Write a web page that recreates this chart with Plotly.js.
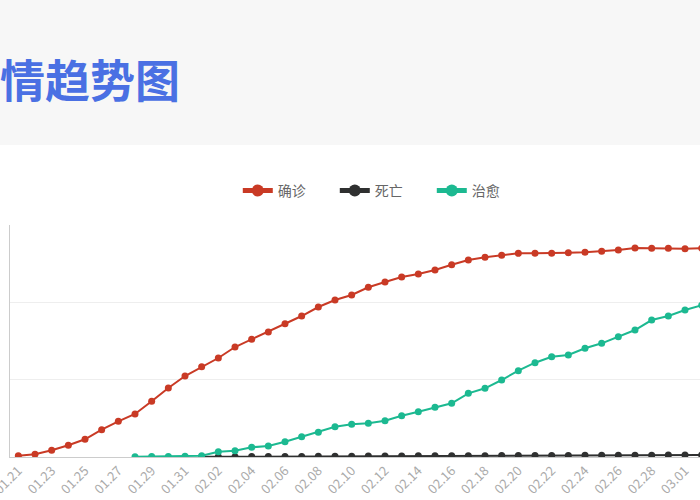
<!DOCTYPE html>
<html>
<head>
<meta charset="utf-8">
<script src="https://cdn.plot.ly/plotly-3.0.1.min.js"></script>
<style>
  body { margin: 0; background: #fff; }
  #chart { width: 700px; height: 500px; }
</style>
</head>
<body>
<div id="chart"></div>
<script>
// dates, one per day
var dates = ['01.21','01.22','01.23','01.24','01.25','01.26','01.27','01.28','01.29','01.30',
             '01.31','02.01','02.02','02.03','02.04','02.05','02.06','02.07','02.08','02.09',
             '02.10','02.11','02.12','02.13','02.14','02.15','02.16','02.17','02.18','02.19',
             '02.20','02.21','02.22','02.23','02.24','02.25','02.26','02.27','02.28','02.29',
             '03.01','03.02'];

// 确诊
var confirmed = [500, 1050, 2600, 4540, 6870, 10590, 13850, 16680, 21610, 26770,
                 31420, 35030, 38400, 42670, 45660, 48490, 51710, 54690, 58190, 60900,
                 62840, 65830, 67880, 69820, 70990, 72540, 74590, 76420, 77460, 78240,
                 79010, 79020, 79030, 79250, 79400, 79790, 80300, 81070, 80960, 80960,
                 80800, 80960];

// 死亡 (starts 02.01)
var deathDates = dates.slice(11);
var deaths = [60, 90, 120, 150, 180, 210, 240, 270, 300, 330,
              360, 390, 420, 440, 460, 480, 500, 520, 540, 560,
              580, 600, 620, 640, 660, 680, 700, 720, 740, 760, 780];

// 治愈 (starts 01.28)
var curedDates = dates.slice(7);
var cured = [120, 150, 200, 330, 480, 2060, 2440, 3760, 4270, 5940,
             7870, 9580, 11750, 12720, 13070, 14080, 16020, 17570, 19280, 20830,
             24710, 26650, 29870, 33480, 36580, 38910, 39570, 42170, 44100, 46660,
             49260, 53140, 54690, 57020, 58850];

var tickDates = dates.filter(function(d, i){ return i % 2 === 0; });

var font = 'Noto Sans CJK SC, Noto Sans, sans-serif';

var mk = function(name, x, y, color){
    return {
        x: x,
        y: y,
        name: name,
        type: 'scatter',
        mode: 'lines+markers',
        line: { color: color, width: 2 },
        marker: { color: color, size: 7 }
    };
};

var data = [
    mk('确诊', dates, confirmed, '#c93a25'),
    mk('死亡', deathDates, deaths, '#2f3030'),
    mk('治愈', curedDates, cured, '#1cb991')
];

var layout = {
    width: 700,
    height: 500,
    autosize: false,
    margin: { l: 10, r: 0, t: 225, b: 43 },
    paper_bgcolor: '#ffffff',
    plot_bgcolor: '#ffffff',
    font: { family: font },
    title: {
        text: '<b>情趋势图</b>',
        font: { family: font, size: 45, color: '#4a70e3' },
        x: 0, xref: 'container', xanchor: 'left',
        y: 0.836, yref: 'container', yanchor: 'middle'
    },
    shapes: [{
        type: 'rect', layer: 'below',
        xref: 'paper', yref: 'paper',
        x0: -0.02, x1: 1.02, y0: 1.345, y1: 2.0,
        fillcolor: '#f7f7f7', line: { width: 0 }
    }],
    showlegend: true,
    legend: {
        orientation: 'h',
        x: 0.541, xanchor: 'center',
        y: 1.147, yanchor: 'middle',
        font: { family: font, size: 14, color: '#666' },
        itemsizing: 'constant',
        entrywidth: 52,
        entrywidthmode: 'pixels'
    },
    xaxis: {
        type: 'category',
        range: [-0.5, 40.9],
        tickmode: 'array',
        tickvals: tickDates,
        ticktext: tickDates,
        tickangle: -45,
        tickfont: { family: font, size: 13, color: '#aaa' },
        showgrid: false,
        showline: true,
        linecolor: '#ccc',
        ticks: '',
        automargin: false
    },
    yaxis: {
        range: [0, 90000],
        dtick: 30000,
        showgrid: true,
        gridcolor: '#eeeeee',
        showticklabels: false,
        showline: true,
        linecolor: '#ccc',
        zeroline: false,
        automargin: false
    }
};

Plotly.newPlot('chart', data, layout, { displayModeBar: false, staticPlot: true });
</script>
</body>
</html>
